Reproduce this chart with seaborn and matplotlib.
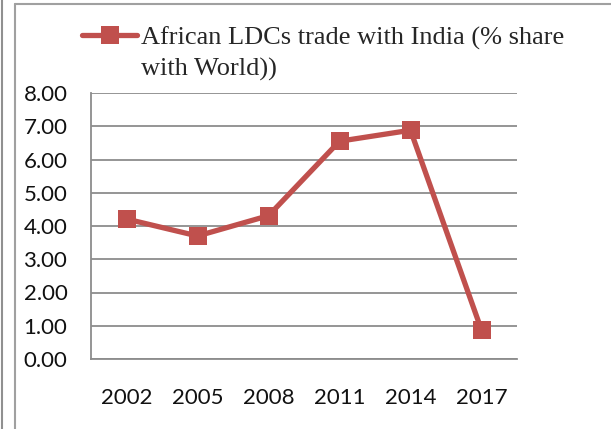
import numpy as np
import pandas as pd
import seaborn as sns
import matplotlib
matplotlib.use("Agg")
from matplotlib import pyplot as plt
from matplotlib.lines import Line2D

years = ['2002', '2005', '2008', '2011', '2014', '2017']
share = [4.21, 3.70, 4.31, 6.55, 6.88, 0.87]
label_lines = ['African LDCs trade with India (% share', 'with World))']

df = pd.DataFrame({'pos': np.arange(len(years)), 'share': share})

sns.set_style("white")
plt.rcParams['font.family'] = ['Lato', 'DejaVu Sans']

red = '#C0504D'
grey = '#8C8C8C'
W, H = 611, 429

fig = plt.figure(figsize=(W / 100, H / 100), dpi=100)
ax = fig.add_axes([91 / W, 1 - 359 / H, 426 / W, 266 / H])

sns.lineplot(data=df, x='pos', y='share', ax=ax, color=red, linewidth=3.8,
             marker='s', markersize=13, markeredgewidth=0, label=label_lines[0])

ax.set_xlim(-0.5, len(years) - 0.5)
ax.set_ylim(0, 8)
ax.set_yticks(np.arange(0, 9, 1))
ax.set_yticklabels([f'{v:.2f}' for v in np.arange(0, 9, 1)], fontsize=16)
ax.set_xticks(np.arange(len(years)))
ax.set_xticklabels(years, fontsize=16)
ax.set_xticks(np.arange(len(years) + 1) - 0.5, minor=True)
ax.tick_params(axis='x', which='major', length=0, pad=21)
ax.tick_params(axis='x', which='minor', length=7, width=1.3, color=grey)
ax.tick_params(axis='y', length=6, width=1.3, color=grey, pad=11)
for t in ax.get_xticklabels() + ax.get_yticklabels():
    t.set_color('#111111')
ax.set_xlabel('')
ax.set_ylabel('')

ax.yaxis.grid(True, color=grey, linewidth=1.3)
ax.set_axisbelow(True)
for side in ['top', 'right']:
    ax.spines[side].set_visible(False)
for side in ['left', 'bottom']:
    ax.spines[side].set_color(grey)
    ax.spines[side].set_linewidth(1.3)

leg = ax.legend(loc='upper left', bbox_to_anchor=(82 / W, 1 - 26 / H),
                bbox_transform=fig.transFigure, frameon=False,
                handlelength=2.1, handletextpad=0.15, borderpad=0,
                borderaxespad=0, markerscale=0.95,
                prop={'family': 'Liberation Serif', 'size': 19})

# second line of the legend label, wrapped as in the original
fig.canvas.draw()
bb = leg.get_texts()[0].get_window_extent()
fig.text(bb.x0 / W, 1 - 76 / H, label_lines[1], ha='left', va='baseline',
         family='Liberation Serif', fontsize=19)

# page frame lines
fig.add_artist(Line2D([2 / W, 2 / W], [0, 1], color='#909090', lw=1.5))
fig.add_artist(Line2D([15 / W, 15 / W], [0, 1 - 4 / H], color='#a0a0a0', lw=1.5))
fig.add_artist(Line2D([15 / W, 1], [1 - 4 / H, 1 - 4 / H], color='#a0a0a0', lw=1.5))

fig.savefig('out.png', dpi=100)
